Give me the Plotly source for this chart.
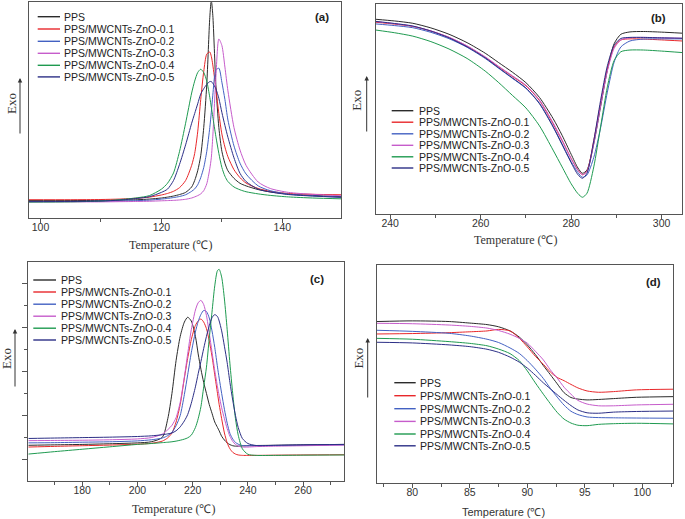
import plotly.graph_objects as go

SERIES = ["PPS", "PPS/MWCNTs-ZnO-0.1", "PPS/MWCNTs-ZnO-0.2",
          "PPS/MWCNTs-ZnO-0.3", "PPS/MWCNTs-ZnO-0.4", "PPS/MWCNTs-ZnO-0.5"]
COLORS = ["#2b2b2b", "#e8282b", "#4361c2", "#c65ccb", "#1f9a50", "#2c2f86"]

# (a) crystallization on cooling, exo up (arbitrary units 0-100)
A_TEMP = [98, 105, 110, 113, 116, 118, 120, 121, 122, 123, 124, 125, 125.5, 126, 126.5, 127,
          127.5, 128, 128.25, 128.5, 129, 129.5, 130, 130.5, 131, 132, 133, 134, 136, 138, 141, 145, 150]
A_PPS = [8.2, 8.2, 8.3, 8.4, 8.6, 8.9, 9.4, 9.8, 10.3, 11.0, 12.0, 14.5, 17.5, 22, 29, 42,
         62, 93, 101, 94, 62, 42, 31, 25.5, 22, 18.5, 16.2, 15.0, 13.3, 12.2, 11.2, 10.6, 10.0]
A_01 = [8.6, 8.6, 8.7, 8.9, 9.3, 9.8, 10.8, 11.5, 12.5, 14.2, 17.5, 24.5, 30, 40, 55, 68,
        76, 77, 75, 71, 60, 48.5, 39, 33, 28.5, 22.5, 18.8, 16.3, 13.8, 12.5, 11.5, 11.1, 10.9]
A_02 = [7.8, 7.8, 7.9, 8.0, 8.2, 8.4, 8.9, 9.2, 9.6, 10.1, 10.9, 12.5, 13.6, 15.5, 18.8, 23.5,
        31, 42, 49, 57, 68.5, 69.5, 63, 55, 45.5, 33.5, 25.5, 20.5, 15.0, 12.8, 11.2, 10.4, 9.7]
A_03 = [7.6, 7.6, 7.6, 7.7, 7.8, 7.9, 8.1, 8.2, 8.3, 8.5, 8.8, 9.4, 9.9, 10.5, 11.3, 12.8,
        16, 23, 28, 38, 65, 83, 80, 70, 59, 42, 31.6, 24.5, 16.8, 13.8, 12.0, 11.1, 10.4]
A_04 = [7.5, 7.6, 8.0, 8.6, 9.5, 10.5, 13.5, 16.2, 21, 31, 44, 58, 63.5, 67.5, 69, 67.5,
        63.5, 56, 51.5, 47, 38, 30, 23.5, 19.5, 17.0, 14.5, 13.2, 12.3, 11.3, 10.6, 9.9, 9.4, 9.0]
A_05 = [7.7, 7.8, 8.0, 8.4, 9.2, 10.0, 12.0, 13.5, 17.5, 25, 34, 44, 48.5, 53, 57.5, 60,
        62, 63.3, 63.3, 62.5, 60, 55.5, 49, 43, 37.5, 28, 20.8, 17.0, 13.5, 12.2, 11.0, 10.3, 9.7]

# (b) melting on heating
B_TEMP = [236.8, 241, 245, 249, 253, 257, 261, 264, 267, 270, 273, 276, 278, 280, 281.5,
          282.5, 283.5, 285, 286.5, 288, 289.5, 291, 293, 296, 300, 304.5]
B_PPS = [92.6, 91.8, 90.7, 88.5, 85.5, 81.5, 76.5, 72.0, 67.5, 62.5, 55.5, 45.5, 37.5, 28.5, 22.0,
         19.5, 21.0, 33.5, 51.0, 68.5, 81.0, 85.5, 86.6, 86.8, 86.5, 86.0]
B_01 = [91.2, 90.3, 89.2, 87.0, 84.0, 79.8, 74.5, 70.0, 65.5, 61.0, 54.0, 43.0, 35.0, 26.5, 21.0,
        18.8, 20.5, 35.0, 52.5, 69.0, 79.5, 82.8, 83.3, 83.2, 82.8, 82.3]
B_02 = [90.4, 89.6, 88.6, 86.4, 83.4, 79.3, 74.0, 69.3, 64.6, 59.8, 52.8, 41.8, 33.5, 25.0, 19.8,
        17.6, 18.7, 27.0, 41.0, 58.0, 72.3, 79.5, 82.3, 83.2, 83.3, 83.3]
B_03 = [91.5, 90.5, 89.3, 87.1, 84.1, 80.0, 74.8, 70.2, 65.8, 61.3, 54.3, 43.5, 35.3, 26.5, 21.0,
        18.8, 20.3, 33.5, 51.5, 68.0, 78.8, 82.8, 83.8, 84.0, 83.8, 83.6]
B_04 = [87.5, 86.2, 84.6, 82.0, 78.5, 74.0, 68.0, 62.5, 56.5, 50.5, 42.0, 30.5, 22.5, 14.5, 9.8,
        8.1, 10.0, 22.5, 41.5, 60.5, 73.0, 77.2, 78.0, 78.0, 77.5, 76.8]
B_05 = [91.6, 90.6, 89.4, 87.0, 83.8, 79.5, 74.3, 69.5, 64.8, 60.0, 52.5, 41.5, 33.0, 24.5, 18.8,
        17.1, 19.5, 35.0, 54.0, 70.5, 80.3, 83.5, 84.0, 84.0, 83.8, 83.6]

# (c) crystallization peaks
C_TEMP = [160.5, 170, 180, 190, 200, 205, 209, 211, 212.5, 214, 215.5, 217, 218.2, 219.5, 221, 222,
          223, 224, 225, 226, 227, 228, 229, 229.6, 230.5, 231.5, 232.5, 233.5, 234.5, 235.5,
          236.5, 238, 240, 243, 250, 260, 275]
C_PPS = [16.4, 16.6, 16.8, 17.1, 17.5, 18.0, 20.0, 28.5, 40, 55, 66, 72.5, 74.7, 73, 66, 58,
         51, 45, 40, 35, 31, 27, 24.5, 23, 20.5, 18.8, 17.5, 16.7, 16.2, 16.0,
         16.0, 16.1, 16.2, 16.3, 16.4, 16.6, 16.8]
C_01 = [15.6, 15.9, 16.2, 16.5, 16.9, 17.3, 18.3, 19.8, 22, 27, 35, 47, 56, 64.5, 71, 73,
        73.9, 72.5, 69.5, 64, 57, 48.5, 40, 35, 28.5, 22, 17.5, 14.8, 13.2, 12.4,
        12.0, 11.8, 11.8, 11.8, 11.9, 12.0, 12.1]
C_02 = [17.5, 17.6, 17.8, 18.0, 18.4, 18.9, 19.7, 20.8, 22.3, 25.3, 30, 39.5, 48.5, 58.5, 68, 72.8,
        76, 77.8, 77.3, 74.4, 68.5, 61, 52, 47, 40, 32.8, 26.5, 21.8, 19.3, 17.7,
        16.9, 16.3, 16.2, 16.2, 16.3, 16.4, 16.6]
C_03 = [18.5, 18.6, 18.7, 18.9, 19.3, 19.9, 21.5, 23.5, 25.5, 29, 36, 47.5, 58, 69, 78, 81.3,
        82.4, 80.5, 75.5, 67.5, 59, 50.5, 43, 39, 33.5, 28.5, 24, 20.5, 18.2, 16.8,
        16.0, 15.6, 15.6, 15.8, 16.0, 16.2, 16.5]
C_04 = [12.4, 13.5, 14.6, 15.7, 16.8, 17.2, 17.6, 17.8, 18.0, 18.3, 18.7, 19.2, 19.8, 21.0, 24.5, 28.5,
        34, 43, 52, 65, 77, 89, 96, 96.5, 93, 83, 69, 53.5, 40, 28.5,
        21, 14.8, 12.3, 11.8, 11.8, 11.9, 12.0]
C_05 = [19.5, 19.7, 19.9, 20.1, 20.4, 20.7, 21.2, 21.6, 22.0, 23.0, 24.8, 27.5, 30.4, 35.5, 43, 49,
        54.6, 60.5, 66, 70.8, 74.5, 75.9, 75.0, 73, 68.5, 61.5, 54, 45, 37, 30,
        24.5, 19.5, 17.2, 16.3, 16.4, 16.6, 16.8]

# (d) glass transition region
D_TEMP = [76.9, 80, 83.2, 85, 86.5, 87.5, 88.5, 89.3, 90, 90.7, 91.4, 92, 92.6, 93.2, 93.8,
          94.4, 95.2, 96.2, 97.5, 99.5, 102.7]
D_PPS = [74.1, 74.4, 74.1, 73.4, 72.7, 71.7, 69.8, 67.0, 63.4, 59.0, 53.9, 49.8, 45.6, 41.5, 39.3,
         38.6, 38.2, 38.4, 38.8, 39.4, 39.7]
D_01 = [68.4, 68.6, 69.0, 69.4, 69.8, 70.5, 69.8, 66.5, 62.5, 58.2, 54.5, 51.0, 48.5, 47.0, 45.3,
        43.7, 42.3, 41.7, 42.0, 42.8, 43.1]
D_02 = [70.1, 69.6, 68.7, 67.5, 66.0, 64.5, 62.0, 59.5, 56.2, 52.3, 48.0, 43.5, 39.5, 35.8, 33.0,
        31.5, 30.4, 30.1, 30.0, 29.9, 29.8]
D_03 = [73.3, 73.1, 72.5, 71.9, 71.1, 70.0, 68.3, 66.4, 64.2, 60.5, 56.5, 52.0, 48.2, 44.0, 40.8,
        38.0, 36.3, 35.5, 35.5, 35.9, 36.2]
D_04 = [66.4, 66.0, 64.9, 64.1, 63.0, 61.5, 59.4, 56.2, 51.5, 46.0, 40.8, 36.5, 32.5, 29.4, 27.6,
        26.6, 26.4, 27.0, 27.3, 27.5, 27.2]
D_05 = [64.6, 64.3, 63.4, 62.6, 61.4, 60.0, 57.8, 55.5, 52.8, 49.5, 46.0, 43.3, 40.6, 38.0, 35.6,
        33.6, 32.3, 32.1, 32.6, 32.9, 33.1]

A_TICKS = [100, 120, 140]
B_TICKS = [240, 260, 280, 300]
C_TICKS = [180, 200, 220, 240, 260]
D_TICKS = [80, 85, 90, 95, 100]

W, H = 685, 519


def fx(p):
    return p / W


def fy(p):
    return 1 - p / H


SANS = "Liberation Sans, Arial, sans-serif"
SERIF = "Liberation Serif, Times New Roman, serif"

panels = [
    dict(tag="(a)", T=A_TEMP, ys=[A_PPS, A_01, A_02, A_03, A_04, A_05], box=(29, 2.3, 341, 218.3),
         xr=[98.1, 149.7], ticks=A_TICKS, minor=[110, 130], yticks=False,
         leg=(37.7, 60, 62.3, [16.7, 29.0, 41.3, 53.3, 65.3, 76.9]), lab=(321.7, 16.7),
         title=(170, 245, SERIF, 12), exo=(11.7, 103.3), arrow=(20, 78, 57)),
    dict(tag="(b)", T=B_TEMP, ys=[B_PPS, B_01, B_02, B_03, B_04, B_05], box=(375.7, 3.7, 682, 214.3),
         xr=[236.8, 304.5], ticks=B_TICKS, minor=[250, 270, 290], yticks=False,
         leg=(391.7, 413.3, 416.7, [110.7, 122.2, 133.8, 145.3, 156.8, 168.0]), lab=(658.3, 18.3),
         title=(515, 239.5, SERIF, 12), exo=(356.7, 100), arrow=(366.7, 76, 57)),
    dict(tag="(c)", T=C_TEMP, ys=[C_PPS, C_01, C_02, C_03, C_04, C_05], box=(28.3, 261.7, 344.3, 481.3),
         xr=[160.5, 274.9], ticks=C_TICKS, minor=[170, 190, 210, 230, 250, 270], yticks=True,
         leg=(33.3, 56, 59.3, [280.0, 292.0, 304.2, 316.2, 328.2, 340.0]), lab=(316.7, 279),
         title=(173.3, 509, SERIF, 12), exo=(6.7, 358.3), arrow=(15, 329, 59)),
    dict(tag="(d)", T=D_TEMP, ys=[D_PPS, D_01, D_02, D_03, D_04, D_05], box=(376.7, 265, 673.3, 483.3),
         xr=[76.9, 102.7], ticks=D_TICKS, minor=[77.5, 82.5, 87.5, 92.5, 97.5, 102.5], yticks=False,
         leg=(394.3, 415.7, 418.3, [382.7, 395.7, 408.7, 421.4, 434.0, 445.8]), lab=(653.3, 281.7),
         title=(503.3, 511.7, SANS, 11), exo=(358.3, 358.3), arrow=(367.7, 338, 61)),
]

fig = go.Figure()
layout = dict(width=W, height=H, margin=dict(l=0, r=0, t=0, b=0), showlegend=False,
              paper_bgcolor="white", plot_bgcolor="white")
shapes, annotations = [], []


def note(x, y, text, font, **kw):
    d = dict(x=fx(x), y=fy(y), xref="paper", yref="paper", text=text, showarrow=False,
             xanchor="center", yanchor="middle", font=font)
    d.update(kw)
    annotations.append(d)


for i, p in enumerate(panels):
    n = "" if i == 0 else str(i + 1)
    x0, y0, x1, y1 = p["box"]
    for name, col, yv in zip(SERIES, COLORS, p["ys"]):
        fig.add_trace(go.Scatter(x=p["T"], y=yv, name=name, mode="lines",
                                 line=dict(color=col, width=1, shape="spline", smoothing=0.7),
                                 xaxis="x" + n, yaxis="y" + n, hoverinfo="skip"))
    layout["xaxis" + n] = dict(
        domain=[fx(x0), fx(x1)], range=p["xr"], anchor="y" + n,
        showgrid=False, zeroline=False, showline=True, mirror=True, linecolor="#555", linewidth=1,
        tickmode="array", tickvals=p["ticks"], ticktext=[str(t) for t in p["ticks"]],
        ticks="outside", ticklen=4, tickcolor="#555", tickwidth=1, ticklabelstandoff=-5,
        minor=dict(tickvals=p["minor"], ticks="outside", ticklen=3, tickcolor="#555"),
        tickfont=dict(family=SANS, size=10.5, color="#333"))
    yax = dict(domain=[fy(y1), fy(y0)], range=[0, 100], anchor="x" + n,
               showgrid=False, zeroline=False, showline=True, mirror=True, linecolor="#555",
               linewidth=1, showticklabels=False)
    if p["yticks"]:
        yax.update(tickmode="array", tickvals=[10, 30, 50, 70, 90], ticks="outside", ticklen=5,
                   tickcolor="#555", minor=dict(tickvals=[20, 40, 60, 80], ticks="outside",
                                                ticklen=3, tickcolor="#555"))
    else:
        yax.update(ticks="")
    layout["yaxis" + n] = yax

    lx0, lx1, tx, rows = p["leg"]
    for name, col, ry in zip(SERIES, COLORS, rows):
        shapes.append(dict(type="line", xref="paper", yref="paper", x0=fx(lx0), x1=fx(lx1),
                           y0=fy(ry), y1=fy(ry), line=dict(color=col, width=1.4)))
        note(tx, ry, name, dict(family=SANS, size=10.5, color="#222"), xanchor="left")
    note(p["lab"][0], p["lab"][1], "<b>" + p["tag"] + "</b>", dict(family=SANS, size=11.5, color="#222"))
    tx_, ty_, fam, fs = p["title"]
    note(tx_, ty_, "Temperature (℃)", dict(family=fam, size=fs, color="#333"))
    note(p["exo"][0], p["exo"][1], "Exo", dict(family=SERIF, size=13, color="#333"), textangle=-90)
    ax_, ay_, alen = p["arrow"]
    annotations.append(dict(x=fx(ax_), y=fy(ay_), xref="paper", yref="paper", text="",
                            showarrow=True, ax=0, ay=alen, arrowhead=2, arrowsize=0.9,
                            arrowwidth=1, arrowcolor="#333"))

layout["shapes"] = shapes
layout["annotations"] = annotations
fig.update_layout(**layout)
fig.write_html("out.html", config={"displayModeBar": False},
               post_script="document.body.style.margin='0';")
